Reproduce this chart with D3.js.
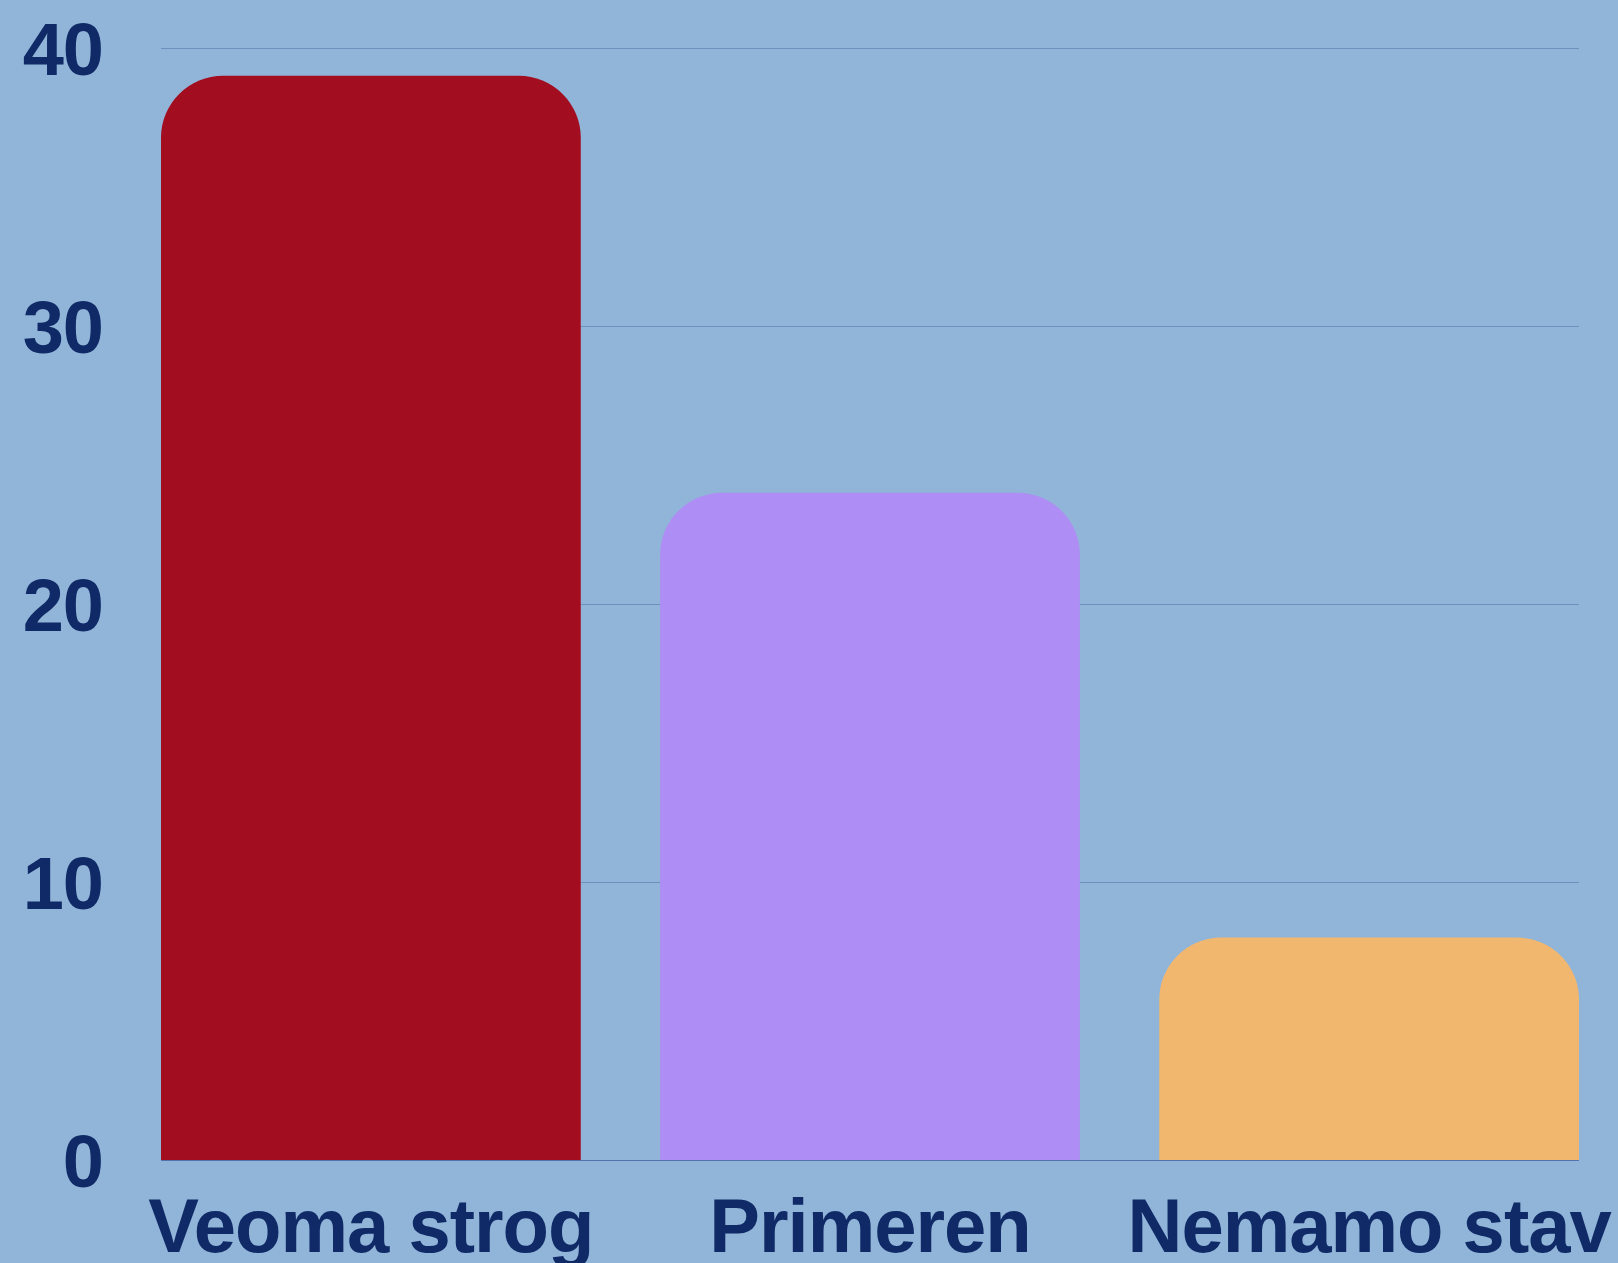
<!DOCTYPE html>
<html>
<head>
<meta charset="utf-8">
<script src="https://cdn.jsdelivr.net/npm/d3@7"></script>
<style>
  html, body { margin: 0; padding: 0; background: #91b4d9; }
  svg { display: block; }
  .tick text { font-family: "Liberation Sans", Arial, sans-serif; font-weight: bold; fill: #0f2a66; }
</style>
</head>
<body>
<div id="chart"></div>
<script>
const categories = ['Veoma strog', 'Primeren', 'Nemamo stav'];
const values = [39, 24, 8];
const barColors = ['#a20e20', '#ae8ef4', '#f2b76e'];
const yTicks = [0, 10, 20, 30, 40];

const width = 1618, height = 1263;
const margin = {l: 161, r: 39, t: 48, b: 103};

const svg = d3.select('#chart').append('svg')
  .attr('width', width)
  .attr('height', height);

const x = d3.scaleBand()
  .domain(categories)
  .range([margin.l, width - margin.r])
  .paddingInner(0.159)
  .paddingOuter(0);

const y = d3.scaleLinear()
  .domain([0, 40])
  .range([height - margin.b, margin.t]);

// grid lines
svg.append('g')
  .selectAll('line')
  .data(yTicks)
  .join('line')
  .attr('x1', margin.l)
  .attr('x2', width - margin.r)
  .attr('y1', d => y(d) + 0.5)
  .attr('y2', d => y(d) + 0.5)
  .attr('stroke', d => d === 0 ? '#5672ad' : '#6f8fbf')
  .attr('stroke-width', 1.2);

// rounded-top bars
function barPath(x0, y0, w, h, r){
  r = Math.min(r, w / 2, h);
  return `M${x0},${y0 + h}V${y0 + r}A${r},${r} 0 0 1 ${x0 + r},${y0}` +
    `H${x0 + w - r}A${r},${r} 0 0 1 ${x0 + w},${y0 + r}V${y0 + h}Z`;
}

svg.append('g')
  .selectAll('path')
  .data(categories)
  .join('path')
  .attr('d', (d, i) => barPath(x(d), y(values[i]), x.bandwidth(), y(0) - y(values[i]), 62))
  .attr('fill', (d, i) => barColors[i]);

// y axis
const yAxis = svg.append('g')
  .attr('transform', `translate(${103},0)`)
  .call(d3.axisLeft(y).tickValues(yTicks).tickSize(0).tickPadding(0));
yAxis.select('.domain').remove();
yAxis.selectAll('text')
  .attr('font-size', 74)
  .attr('dy', '0.36em')
  .attr('letter-spacing', -1);

// x axis
const xAxis = svg.append('g')
  .attr('transform', `translate(0,${y(0)})`)
  .call(d3.axisBottom(x).tickSize(0).tickPadding(0));
xAxis.select('.domain').remove();
xAxis.selectAll('text')
  .attr('font-size', 76)
  .attr('dy', null)
  .attr('y', 92)
  .attr('letter-spacing', -1);
</script>
</body>
</html>
